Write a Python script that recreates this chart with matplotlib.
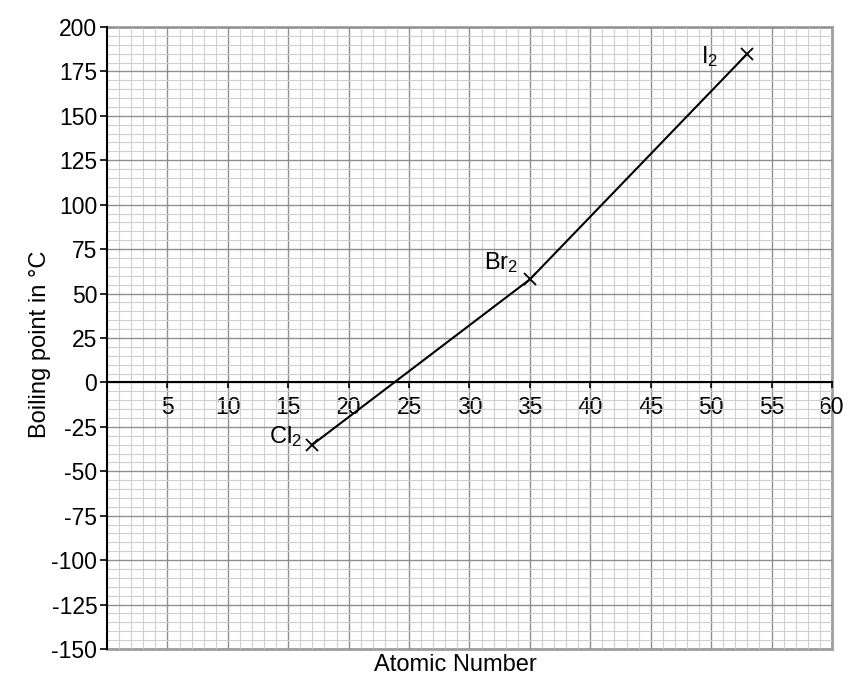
import matplotlib
matplotlib.use('Agg')
import matplotlib.pyplot as plt
from matplotlib.ticker import MultipleLocator, FuncFormatter

# Halogen boiling points vs atomic number
elements = ['Cl$_2$', 'Br$_2$', 'I$_2$']
atomic_number = [17, 35, 53]
boiling_point = [-35, 58, 185]
# label offsets (pixels) from each point
label_offsets = [(-10, 8), (-12, 17), (-29, -3)]

plt.rcParams['font.family'] = ['Liberation Sans', 'DejaVu Sans']
plt.rcParams['mathtext.default'] = 'regular'
plt.rcParams['axes.unicode_minus'] = False

fig = plt.figure(figsize=(8.54, 6.9), dpi=100)
ax = fig.add_axes([0.1253, 0.0594, 0.8489, 0.9015])

ax.set_xlim(0, 60)
ax.set_ylim(-150, 200)
ax.xaxis.set_major_locator(MultipleLocator(5))
ax.xaxis.set_minor_locator(MultipleLocator(1))
ax.yaxis.set_major_locator(MultipleLocator(25))
ax.yaxis.set_minor_locator(MultipleLocator(5))
ax.yaxis.set_major_formatter(FuncFormatter(lambda v, p: '%d' % v))

ax.grid(which='minor', color='#cfcfcf', linewidth=0.8)
ax.grid(which='major', color='#8f8f8f', linewidth=1.0)
ax.set_axisbelow(True)

for s in ['top', 'right']:
    ax.spines[s].set_visible(False)
ax.spines['bottom'].set_position(('data', 0))
ax.spines['bottom'].set_linewidth(1.5)
ax.spines['left'].set_linewidth(1.5)
# grey frame along top, right and bottom edges
ax.axhline(-150, color='#a0a0a0', lw=2, clip_on=False, zorder=0.5)
ax.axhline(200, color='#a0a0a0', lw=2, clip_on=False, zorder=0.5)
ax.axvline(60, color='#a0a0a0', lw=2, clip_on=False, zorder=0.5)

ax.tick_params(axis='y', which='major', direction='out', length=5, width=1.2,
               labelsize=16.5, pad=2)
ax.tick_params(axis='y', which='minor', length=0)
ax.tick_params(axis='x', which='major', direction='out', length=4, width=1.2,
               labelsize=16.5, pad=6)
ax.tick_params(axis='x', which='minor', length=0)
ax.set_xticks(range(5, 65, 5))

ax.plot(atomic_number, boiling_point, color='black', lw=1.5,
        marker='x', markersize=9, markeredgewidth=1.3, zorder=3)

for name, xv, yv, off in zip(elements, atomic_number, boiling_point, label_offsets):
    ax.annotate(name, (xv, yv), xytext=off, textcoords='offset pixels',
                ha='right', va='center', fontsize=17)

ax.text(0.48, -0.026, 'Atomic Number', transform=ax.transAxes,
        ha='center', va='center', fontsize=17)
ax.text(-0.092, 0.49, 'Boiling point in °C', transform=ax.transAxes,
        ha='center', va='center', rotation=90, fontsize=17)

fig.savefig('out.png', dpi=100)
